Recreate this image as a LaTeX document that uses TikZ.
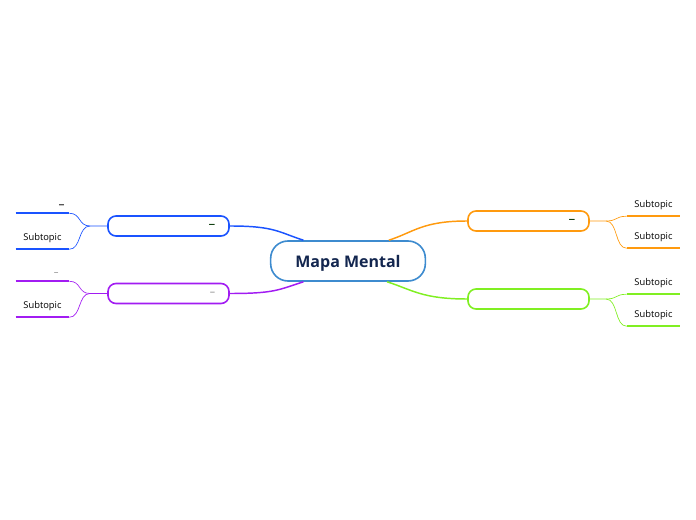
\documentclass[tikz,border=0pt]{standalone}
\usepackage{fontspec}
\setmainfont{Open Sans}
\usepackage{tikz}
\usetikzlibrary{arrows.meta,calc}
\definecolor{navy}{HTML}{13264F}
\definecolor{ring}{HTML}{3D8BCF}
\definecolor{tblue}{HTML}{1A53FF}
\definecolor{tpurple}{HTML}{A21CF2}
\definecolor{torange}{HTML}{FF9A0E}
\definecolor{tgreen}{HTML}{80EF22}
\definecolor{dashgrey}{HTML}{8A8A8A}

\begin{document}
\begin{tikzpicture}[x=0.75pt,y=-0.75pt,
 central/.style={draw=ring,line width=1.2pt,rounded corners=13pt,fill=white,minimum width=116pt,minimum height=30pt,text depth=0pt,font=\fontsize{12}{14}\selectfont\bfseries,text=navy},
 topic/.style={draw=#1,line width=1.2pt,rounded corners=6pt,fill=white,minimum width=90.75pt,minimum height=15pt,inner sep=0pt,text width=70pt,align=right,font=\fontsize{10}{10}\selectfont},
 sub/.style={inner xsep=3.4pt,inner ysep=0pt,text width=33pt,align=center,minimum height=16.5pt,font=\fontsize{7}{8}\selectfont},
 bar/.style={line width=1.6pt,draw=#1},
 link/.style={line width=1.1pt,draw=#1},
 twig/.style={line width=0.5pt,draw=#1}]
 \useasboundingbox (0,0) rectangle (696,520);

 % centre
 \node[central] (c) at (348,261) {Mapa Mental};

 % main topics
 \node[topic=tblue] (b) at (168.5,226) {\textcolor{black!80!green}{–}};
 \node[topic=tpurple] (p) at (168.5,293.5) {\textcolor{dashgrey}{\fontsize{8}{8}\selectfont–}};
 \node[topic=torange] (o) at (528.5,221) {\textcolor{black!80!green}{–}};
 \node[topic=tgreen] (g) at (528.5,299) {};

 \draw[link=tblue] (b.east) .. controls +(45,0) and +(-25,-8) .. (c.155);
 \draw[link=tpurple] (p.east) .. controls +(45,0) and +(-25,8) .. (c.205);
 \draw[link=torange] (o.west) .. controls +(-45,0) and +(25,-8) .. (c.27);
 \draw[link=tgreen] (g.west) .. controls +(-45,0) and +(25,8) .. (c.-28);

 % subtopics, left
 \node[sub,align=right] (b1) at (42.5,202) {\fontsize{9}{9}\selectfont\raisebox{-5pt}[0pt][0pt]{–}\hspace*{4pt}};
 \node[sub] (b2) at (42.5,238) {Subtopic};
 \node[sub,align=right,text=dashgrey] (p1) at (42.5,270) {\fontsize{7}{8}\selectfont\raisebox{-4pt}[0pt][0pt]{–}\hspace*{4.5pt}};
 \node[sub] (p2) at (42.5,306) {Subtopic};
 % subtopics, right
 \node[sub] (o1) at (653.5,205) {Subtopic};
 \node[sub] (o2) at (653.5,237) {Subtopic};
 \node[sub] (g1) at (653.5,283) {Subtopic};
 \node[sub] (g2) at (653.5,315) {Subtopic};

 \foreach \s/\col in {b1/tblue,b2/tblue,p1/tpurple,p2/tpurple,o1/torange,o2/torange,g1/tgreen,g2/tgreen}
  \draw[bar=\col] (\s.south west) -- (\s.south east);

 \coordinate (bj) at (90,226);
 \coordinate (pj) at (90,293.5);
 \coordinate (oj) at (606,221);
 \coordinate (gj) at (606,299);

 \draw[twig=tblue] (b.west) -- (bj) .. controls +(-12,0) and +(12,0) .. (b1.south east);
 \draw[twig=tblue] (bj) .. controls +(-12,0) and +(12,0) .. (b2.south east);
 \draw[twig=tpurple] (p.west) -- (pj) .. controls +(-12,0) and +(12,0) .. (p1.south east);
 \draw[twig=tpurple] (pj) .. controls +(-12,0) and +(12,0) .. (p2.south east);
 \draw[twig=torange] (o.east) -- (oj) .. controls +(12,0) and +(-12,0) .. (o1.south west);
 \draw[twig=torange] (oj) .. controls +(12,0) and +(-12,0) .. (o2.south west);
 \draw[twig=tgreen] (g.east) -- (gj) .. controls +(12,0) and +(-12,0) .. (g1.south west);
 \draw[twig=tgreen] (gj) .. controls +(12,0) and +(-12,0) .. (g2.south west);
\end{tikzpicture}
\end{document}
